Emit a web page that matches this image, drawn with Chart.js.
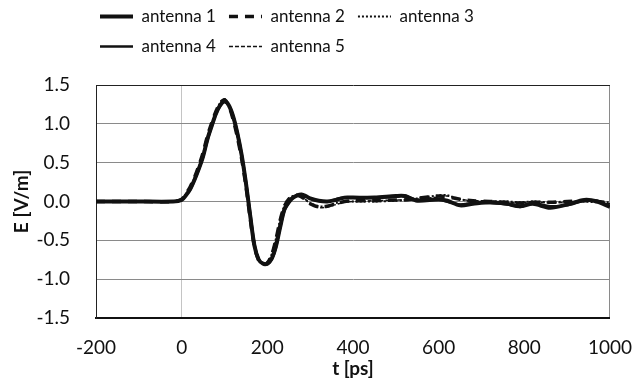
<!DOCTYPE html>
<html>
<head>
<meta charset="utf-8">
<script src="https://cdn.jsdelivr.net/npm/chart.js@4/dist/chart.umd.min.js"></script>
<style>
  html, body { margin: 0; padding: 0; background: #fff; overflow: hidden; }
  #wrap { position: absolute; left: 0; top: -5px; width: 635px; height: 387px; }
</style>
</head>
<body>
<div id="wrap"><canvas id="chart"></canvas></div>
<script>
// time axis in ps
const times = [-200, -100, -20, 0, 10, 20, 30, 40, 50, 60, 70, 80, 90, 100, 110, 120, 130, 140, 150, 160,
  170, 180, 190, 200, 210, 220, 230, 240, 250, 260, 270, 280, 290, 300, 320, 340, 360, 380, 400,
  450, 500, 520, 550, 600, 620, 650, 680, 720, 760, 790, 820, 860, 900, 940, 970, 1000];

// E field in V/m for each antenna
const antenna1 = [0, 0, 0, 0.02, 0.08, 0.16, 0.28, 0.42, 0.58, 0.80, 0.97, 1.13, 1.24, 1.29, 1.24, 1.10, 0.88, 0.60, 0.24, -0.18,
  -0.57, -0.75, -0.80, -0.80, -0.74, -0.58, -0.33, -0.10, -0.01, 0.05, 0.08, 0.09, 0.07, 0.04, 0.01, 0.00, 0.02, 0.05, 0.05,
  0.05, 0.07, 0.07, 0.01, 0.03, 0.01, -0.05, -0.03, -0.01, -0.03, -0.06, -0.03, -0.08, -0.04, 0.02, 0.00, -0.07];
const antenna2 = [0, 0, 0, 0.03, 0.10, 0.19, 0.31, 0.46, 0.63, 0.84, 1.01, 1.16, 1.27, 1.31, 1.23, 1.06, 0.83, 0.55, 0.20, -0.22,
  -0.58, -0.76, -0.81, -0.79, -0.69, -0.49, -0.24, -0.06, 0.03, 0.07, 0.08, 0.06, 0.02, -0.03, -0.07, -0.06, -0.03, 0.00, 0.01,
  0.01, 0.02, 0.02, 0.04, 0.07, 0.06, 0.03, 0.01, 0.00, -0.01, -0.02, -0.01, -0.01, 0.00, 0.01, 0.00, -0.02];
const antenna3 = [0, 0, 0, 0.02, 0.09, 0.18, 0.30, 0.45, 0.62, 0.83, 1.00, 1.16, 1.27, 1.32, 1.24, 1.08, 0.85, 0.57, 0.22, -0.20,
  -0.56, -0.75, -0.80, -0.78, -0.68, -0.48, -0.23, -0.05, 0.04, 0.07, 0.08, 0.06, 0.02, -0.02, -0.06, -0.06, -0.02, 0.00, 0.00,
  0.00, 0.01, 0.02, 0.04, 0.08, 0.08, 0.03, 0.00, 0.00, 0.00, -0.01, 0.00, -0.01, 0.00, 0.00, -0.01, -0.01];
const antenna4 = [0, 0, 0, 0.02, 0.08, 0.15, 0.27, 0.41, 0.57, 0.78, 0.96, 1.12, 1.23, 1.28, 1.24, 1.11, 0.90, 0.62, 0.27, -0.14,
  -0.54, -0.74, -0.80, -0.81, -0.75, -0.60, -0.34, -0.12, -0.02, 0.05, 0.08, 0.09, 0.07, 0.04, 0.01, 0.00, 0.03, 0.05, 0.05,
  0.05, 0.06, 0.08, 0.02, 0.02, 0.00, -0.04, -0.02, -0.02, -0.04, -0.07, -0.02, -0.06, -0.05, 0.01, 0.01, -0.06];
const antenna5 = [0, 0, 0, 0.03, 0.10, 0.19, 0.31, 0.45, 0.62, 0.83, 1.00, 1.15, 1.26, 1.30, 1.23, 1.07, 0.84, 0.56, 0.21, -0.21,
  -0.57, -0.76, -0.81, -0.79, -0.70, -0.50, -0.25, -0.07, 0.02, 0.06, 0.08, 0.06, 0.02, -0.03, -0.08, -0.07, -0.04, -0.01, 0.00,
  0.01, 0.02, 0.02, 0.03, 0.06, 0.07, 0.03, 0.01, 0.01, -0.01, -0.02, 0.00, -0.02, -0.01, 0.01, 0.00, -0.03];

const seriesNames = ['antenna 1', 'antenna 2', 'antenna 3', 'antenna 4', 'antenna 5'];
const xTicks = [-200, 0, 200, 400, 600, 800, 1000];
const yTicks = [-1.5, -1.0, -0.5, 0.0, 0.5, 1.0, 1.5];

const ink = '#111';

function points(values) {
  return values.map((v, i) => ({ x: times[i], y: v }));
}

function line(name, values, width, dash) {
  return {
    label: name,
    data: points(values),
    borderColor: ink,
    backgroundColor: ink,
    borderWidth: width,
    borderDash: dash,
    pointRadius: 0,
    pointStyle: 'line',
    tension: 0.3,
    fill: false
  };
}

// move the legend rows a bit to the left, like the original
const legendNudge = {
  id: 'legendNudge',
  afterLayout(chart) {
    chart.legend.left -= 9;
    chart.legend.right -= 9;
  }
};

Chart.defaults.font.family = 'Lato';
Chart.defaults.color = ink;

new Chart(document.getElementById('chart'), {
  type: 'line',
  data: {
    datasets: [
      line(seriesNames[0], antenna1, 4, []),
      line(seriesNames[1], antenna2, 3.5, [9, 7]),
      line(seriesNames[2], antenna3, 2, [2, 2]),
      line(seriesNames[3], antenna4, 2.5, []),
      line(seriesNames[4], antenna5, 1.5, [4, 2])
    ]
  },
  options: {
    responsive: true,
    maintainAspectRatio: false,
    animation: false,
    layout: { padding: { left: 0, right: 3, top: 0, bottom: 0 } },
    plugins: {
      legend: {
        position: 'top',
        align: 'start',
        fullSize: false,
        labels: {
          usePointStyle: true,
          pointStyleWidth: 33,
          padding: 13,
          font: { size: 17 },
          generateLabels: (chart) => {
            const items = Chart.defaults.plugins.legend.labels.generateLabels(chart);
            items.forEach(item => {
              const ds = chart.data.datasets[item.datasetIndex];
              item.lineDash = ds.borderDash;
              item.lineWidth = ds.borderWidth;
            });
            return items;
          }
        }
      },
      title: {
        display: true,
        text: ' ',
        weight: 500,
        font: { size: 10, lineHeight: 1 },
        padding: { top: 10, bottom: 0 }
      },
      tooltip: { enabled: false }
    },
    scales: {
      x: {
        type: 'linear',
        min: xTicks[0],
        max: xTicks[xTicks.length - 1],
        afterBuildTicks: (scale) => { scale.ticks = xTicks.map(v => ({ value: v })); },
        afterFit: (scale) => { scale.height = 64; },
        ticks: { padding: 3, font: { size: 19 }, maxRotation: 0, callback: (v) => String(v) },
        grid: {
          drawTicks: true,
          tickLength: 15,
          tickColor: 'rgba(0,0,0,0)',
          color: (c) => c.tick.value === 0 ? '#c4c4c4' : (c.tick.value === 1000 ? '#8a8a8a' : 'rgba(0,0,0,0)'),
          lineWidth: 1
        },
        border: { display: true, color: '#111', width: 2 },
        title: {
          display: true,
          text: 't [ps]',
          font: { size: 19, weight: 'bold' },
          padding: { top: 0, bottom: 2 }
        }
      },
      y: {
        min: yTicks[0],
        max: yTicks[yTicks.length - 1],
        afterBuildTicks: (scale) => { scale.ticks = yTicks.map(v => ({ value: v })); },
        afterFit: (scale) => { scale.width = 96; },
        ticks: {
          padding: 26,
          font: { size: 19 },
          callback: (v) => Number(v).toFixed(1)
        },
        grid: {
          drawTicks: false,
          color: (c) => c.tick.value === 1.5 ? '#222' : '#8a8a8a',
          lineWidth: 1
        },
        border: { display: true, color: '#222', width: 1 },
        title: {
          display: true,
          text: 'E [V/m]',
          font: { size: 19, weight: 'bold' },
          padding: { top: 10, bottom: 0 }
        }
      }
    }
  },
  plugins: [legendNudge]
});
</script>
</body>
</html>
